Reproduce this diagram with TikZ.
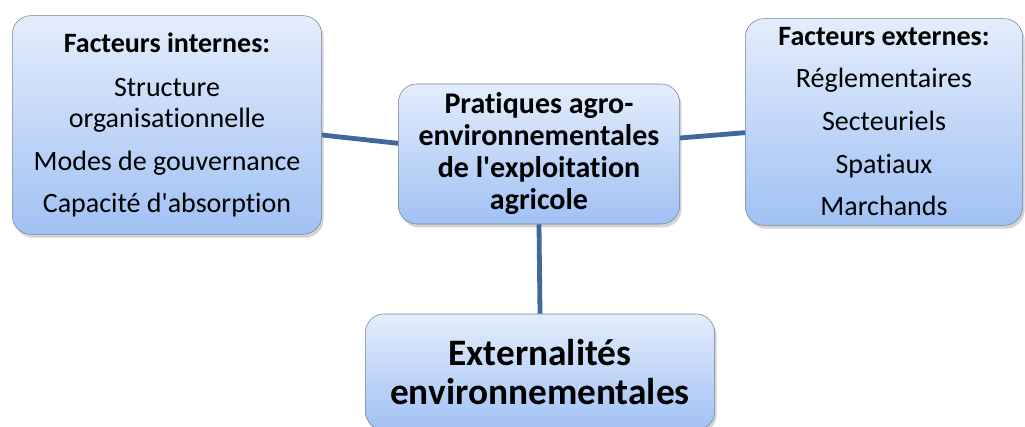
\documentclass[tikz,border=0pt]{standalone}
\usepackage{fontspec}
\setmainfont{Carlito}[Ligatures={NoCommon,TeXOff}]
\usetikzlibrary{positioning,shadows}
\definecolor{boxtop}{RGB}{228,237,252}
\definecolor{boxbot}{RGB}{160,193,244}
\definecolor{boxline}{RGB}{120,130,145}
\definecolor{linkblue}{RGB}{62,104,158}
\tikzset{
  box/.style  = {rectangle, draw=boxline, rounded corners=14pt,
                 top color=boxtop, bottom color=boxbot,
                 align=center, inner sep=0pt,
                 drop shadow={shadow xshift=1.5pt, shadow yshift=-2.5pt,
                              opacity=0.35}},
  link/.style = {draw=linkblue, line width=3.6pt}
}

\begin{document}
\begin{tikzpicture}[x=0.75pt, y=-0.75pt]
    \useasboundingbox (0,0) rectangle (1025,427);
    % facteurs internes
    \node[box, minimum width=232pt, minimum height=164pt,
          font=\fontsize{21}{23}\selectfont] (internes) at (167,125)
      {{\bfseries Facteurs internes:}\\[10.5pt]
       Structure\\organisationnelle\\[9pt]
       Modes de gouvernance\\[9pt]
       Capacité d'absorption};
    % pratiques
    \node[box, minimum width=211pt, minimum height=105pt,
          font=\bfseries\fontsize{22.5}{24}\selectfont] (pratiques) at (539,154)
      {Pratiques agro-\\environnementales\\de l'exploitation\\agricole};
    % facteurs externes
    \node[box, minimum width=208pt, minimum height=155pt,
          font=\fontsize{21}{23}\selectfont] (externes) at (884,122)
      {{\bfseries Facteurs externes:}\\[8.5pt]
       Réglementaires\\[9pt]
       Secteuriels\\[9pt]
       Spatiaux\\[9pt]
       Marchands};
    % externalites
    \node[box, minimum width=262pt, minimum height=87pt,
          font=\bfseries\fontsize{28}{29}\selectfont] (externalites) at (540,372)
      {Externalités\\environnementales};
    % liens
    \draw[link] ([yshift=-7.5pt]internes.east) -- ([yshift=8pt]pratiques.west);
    \draw[link] ([yshift=12pt]pratiques.east) -- ([yshift=-8pt]externes.west);
    \draw[link] (pratiques.south) -- (externalites.north);
\end{tikzpicture}
\end{document}
